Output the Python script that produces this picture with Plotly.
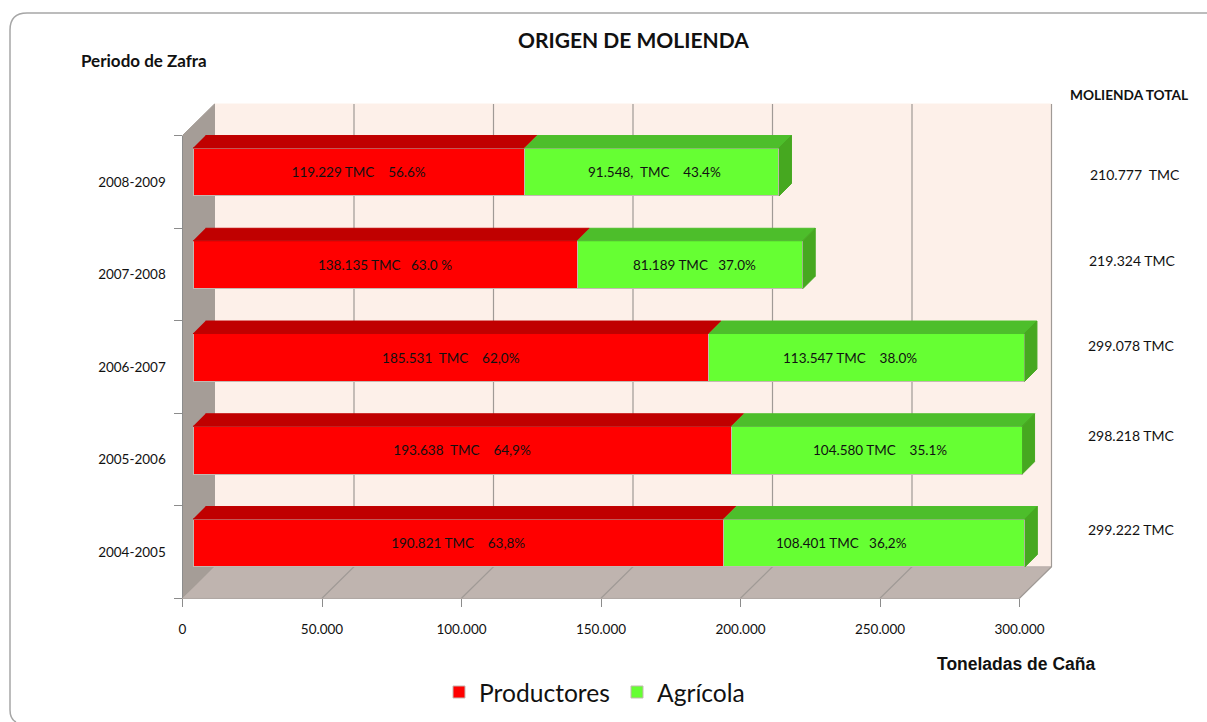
import plotly.graph_objects as go

# ---------- data ----------
periodos = ["2004-2005", "2005-2006", "2006-2007", "2007-2008", "2008-2009"]
productores = [190821, 193638, 185531, 138135, 119229]
agricola = [108401, 104580, 113547, 81189, 91548]
etiquetas_productores = ["190.821 TMC    63,8%", "193.638  TMC    64,9%", "185.531  TMC    62,0%",
                         "138.135 TMC   63.0 %", "119.229 TMC    56.6%"]
etiquetas_agricola = ["108.401 TMC   36,2%", "104.580 TMC    35.1%", "113.547 TMC    38.0%",
                      "81.189 TMC   37.0%", "91.548,  TMC    43.4%"]
totales = ["299.222 TMC", "298.218 TMC", "299.078 TMC", "219.324 TMC", "210.777  TMC"]
ticks_x = [0, 50000, 100000, 150000, 200000, 250000, 300000]
ticks_x_txt = ["0", "50.000", "100.000", "150.000", "200.000", "250.000", "300.000"]

# ---------- page geometry (pixels) ----------
W, H = 1207, 722
AX_L, AX_R, AX_B, AX_T = 182.5, 1019.5, 598.3, 135.5
WALL_DX, WALL_DY = 32.0, 31.5
BAR_X0, BAR_K = 193.0, 0.00278
BAR_Y0, BAR_STEP = 543.0, 92.75
BAR_DEPTH = 12.5
AGRICOLA_LABEL_SHIFT = [-33, 3, -17, 5, 3]

FONT = "Lato"
INK = "#111111"
nb = lambda s: s.replace(" ", "\u00a0")


def px(x):
    return x / W


def py(y):
    return 1 - y / H


k_main = (AX_R - AX_L) / 300000
u_main = (AX_B - AX_T) / 5
wx = WALL_DX / k_main      # wall depth in value units
wy = WALL_DY / u_main      # wall depth in category units
bx = BAR_DEPTH / BAR_K
by = BAR_DEPTH / BAR_STEP

fig = go.Figure()


def poly(xs, ys, color, axis=("x", "y"), line=None):
    fig.add_trace(go.Scatter(
        x=xs, y=ys, mode="lines", fill="toself", fillcolor=color,
        line=dict(color=line or color, width=1), xaxis=axis[0], yaxis=axis[1],
        showlegend=False, hoverinfo="skip"))


# walls (full-page axes, same scale as the visible axes)
n = len(periodos)
vmax = ticks_x[-1]
poly([wx, vmax + wx, vmax + wx, wx], [wy, wy, n + wy, n + wy], "#FDF0E9")
poly([0, wx, wx, 0], [0, wy, n + wy, n], "#A59D97")
poly([0, vmax, vmax + wx, wx], [0, 0, wy, wy], "#BFB4AF", line="#B9B0AB")

gx, gy = [], []
for t in ticks_x[1:]:
    gx += [t, t + wx, t + wx, None]
    gy += [0, wy, n + wy, None]
fig.add_trace(go.Scatter(x=gx, y=gy, mode="lines", line=dict(color="#A09A96", width=1.2),
                         showlegend=False, hoverinfo="skip"))

# bars
pos = list(range(n))
fig.add_trace(go.Bar(
    name="Productores", y=pos, x=productores, orientation="h", width=0.517,
    marker=dict(color="#FF0000", line=dict(color="#C4B8B2", width=1)),
    text=[nb(s) for s in etiquetas_productores], textposition="inside",
    insidetextanchor="middle", textangle=0,
    textfont=dict(family=FONT, size=13.5, color=INK),
    xaxis="x2", yaxis="y2", hoverinfo="skip"))
fig.add_trace(go.Bar(
    name="Agrícola", y=pos, x=agricola, orientation="h", width=0.517,
    marker=dict(color="#66FF33", line=dict(color="#C4B8B2", width=1)),
    xaxis="x2", yaxis="y2", hoverinfo="skip"))

# 3-D faces of the bars, derived from the values
half = 0.517 / 2
for i in pos:
    a = productores[i]
    b = a + agricola[i]
    t = i + half
    poly([0, a, a + bx, bx], [t, t, t + by, t + by], "#C00000", ("x2", "y2"))
    poly([a, b, b + bx, a + bx], [t, t, t + by, t + by], "#4DBE2B", ("x2", "y2"))
    poly([b, b + bx, b + bx, b], [t, t + by, i - half + by, i - half], "#46A820", ("x2", "y2"))

# carrier of the visible axes
fig.add_trace(go.Scatter(x=[0], y=[0], mode="none", xaxis="x3", yaxis="y3",
                         showlegend=False, hoverinfo="skip"))

# frame with rounded corners
r = 17
frame = (f"M {px(W)},{py(13)} L {px(10 + r)},{py(13)} Q {px(10)},{py(13)} {px(10)},{py(13 + r)} "
         f"L {px(10)},{py(710)} Q {px(10)},{py(719)} {px(16)},{py(722)}")

# annotations
ann = [
    dict(text="<b>ORIGEN DE MOLIENDA</b>", x=px(633.5), y=py(39), font=dict(family=FONT, size=21, color=INK)),
    dict(text="<b>Periodo de Zafra</b>", x=px(144), y=py(61), font=dict(family=FONT, size=17, color=INK)),
    dict(text="<b>MOLIENDA TOTAL</b>", x=px(1129), y=py(95), font=dict(family=FONT, size=13.7, color=INK)),
    dict(text="<b>Toneladas de Caña</b>", x=px(1016), y=py(664),
         font=dict(family="Liberation Sans", size=17.5, color=INK)),
]
tot_y = [529, 435, 345, 260, 174]
tot_x = [1131, 1131, 1131, 1132, 1135]
for s, xx, yy in zip(totales, tot_x, tot_y):
    ann.append(dict(text=nb(s), x=px(xx), y=py(yy), font=dict(family=FONT, size=14, color=INK)))
for a in ann:
    a.update(xref="paper", yref="paper", xanchor="center", yanchor="middle", showarrow=False)
for i in pos:
    ann.append(dict(text=nb(etiquetas_agricola[i]), xref="x2", yref="y2",
                    x=productores[i] + agricola[i] / 2, y=i, xshift=AGRICOLA_LABEL_SHIFT[i],
                    xanchor="center", yanchor="middle", showarrow=False,
                    font=dict(family=FONT, size=13.5, color=INK)))

hidden = dict(visible=False, showgrid=False, zeroline=False)
fig.update_layout(
    width=W, height=H, autosize=False, margin=dict(l=0, r=0, t=0, b=0, autoexpand=False),
    paper_bgcolor="white", plot_bgcolor="rgba(0,0,0,0)",
    barmode="stack", annotations=ann,
    shapes=[dict(type="path", path=frame, xref="paper", yref="paper",
                 line=dict(color="#A6A6A6", width=1.5), layer="below")],
    xaxis=dict(domain=[0, 1], range=[-AX_L / k_main, (W - AX_L) / k_main], anchor="y", **hidden),
    yaxis=dict(domain=[0, 1], range=[(AX_B - H) / u_main, AX_B / u_main], anchor="x", **hidden),
    xaxis2=dict(domain=[px(BAR_X0), 1], range=[0, (W - BAR_X0) / BAR_K], anchor="y2", **hidden),
    yaxis2=dict(domain=[0, 1], range=[(BAR_Y0 - H) / BAR_STEP, BAR_Y0 / BAR_STEP], anchor="x2", **hidden),
    xaxis3=dict(domain=[px(AX_L), px(AX_R)], range=[0, vmax], anchor="y3", tickmode="array",
                tickvals=ticks_x, ticktext=ticks_x_txt, ticks="outside", ticklen=8, tickcolor="#8C8C8C",
                showgrid=False, zeroline=False, showline=True, linecolor="#B0A8A4", ticklabelstandoff=10,
                tickfont=dict(family=FONT, size=13.5, color=INK)),
    yaxis3=dict(domain=[py(AX_B), py(AX_T)], range=[0, n], anchor="x3", tickmode="array",
                tickvals=[i + 0.5 for i in pos], ticktext=periodos, ticks="", showgrid=False,
                zeroline=False, showline=True, linecolor="#8C8C8C", ticklabelstandoff=13,
                minor=dict(ticks="outside", ticklen=8, tickcolor="#8C8C8C", tick0=0, dtick=1, showgrid=False),
                tickfont=dict(family=FONT, size=13.5, color=INK)),
    showlegend=True,
    legend=dict(orientation="h", x=px(439), y=py(692), xanchor="left", yanchor="middle",
                bgcolor="rgba(0,0,0,0)", font=dict(family="Lato", size=24.6, color=INK),
                traceorder="normal", entrywidth=133, entrywidthmode="pixels"),
)

fig.write_html("out.html", post_script="document.body.style.margin='0';",
               config={"displayModeBar": False})
